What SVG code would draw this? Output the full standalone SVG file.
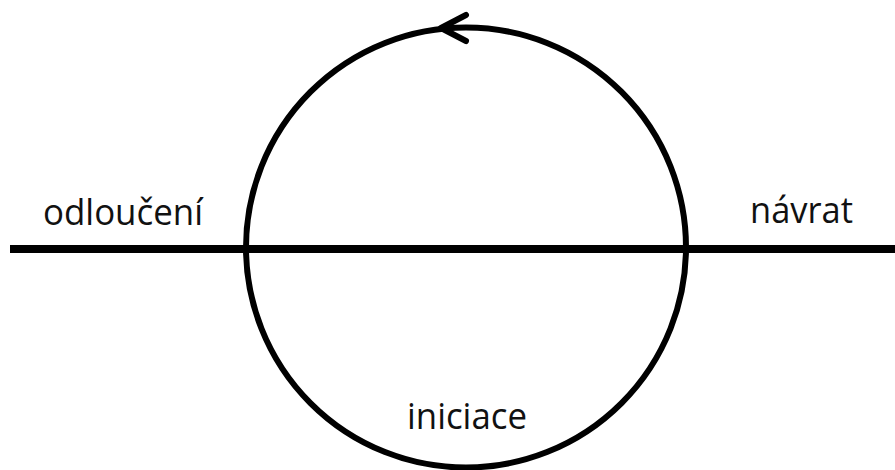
<svg xmlns="http://www.w3.org/2000/svg" width="895" height="470" viewBox="0 0 895 470">
<style>
.ln{fill:none;stroke:#000;stroke-width:6;stroke-linecap:round;stroke-linejoin:round}
.lbl{font-family:"Open Sans","Noto Sans",sans-serif;font-size:36px;fill:#111}
</style>
<rect width="895" height="470" fill="#fff"/>
<g id="connectors">
<line x1="10" y1="249" x2="895" y2="249" stroke="#000" stroke-width="8"/>
<circle class="ln" cx="466" cy="247.5" r="220"/>
<polyline class="ln" points="466,15 441,28 466,41"/>
</g>
<g id="odloucen"><text class="lbl" x="43" y="225" textLength="160" lengthAdjust="spacingAndGlyphs">odloučení</text></g>
<g id="navrat"><text class="lbl" x="750" y="223" textLength="103" lengthAdjust="spacingAndGlyphs">návrat</text></g>
<g id="iniciace"><text class="lbl" x="407" y="429" textLength="120" lengthAdjust="spacingAndGlyphs">iniciace</text></g>
</svg>
